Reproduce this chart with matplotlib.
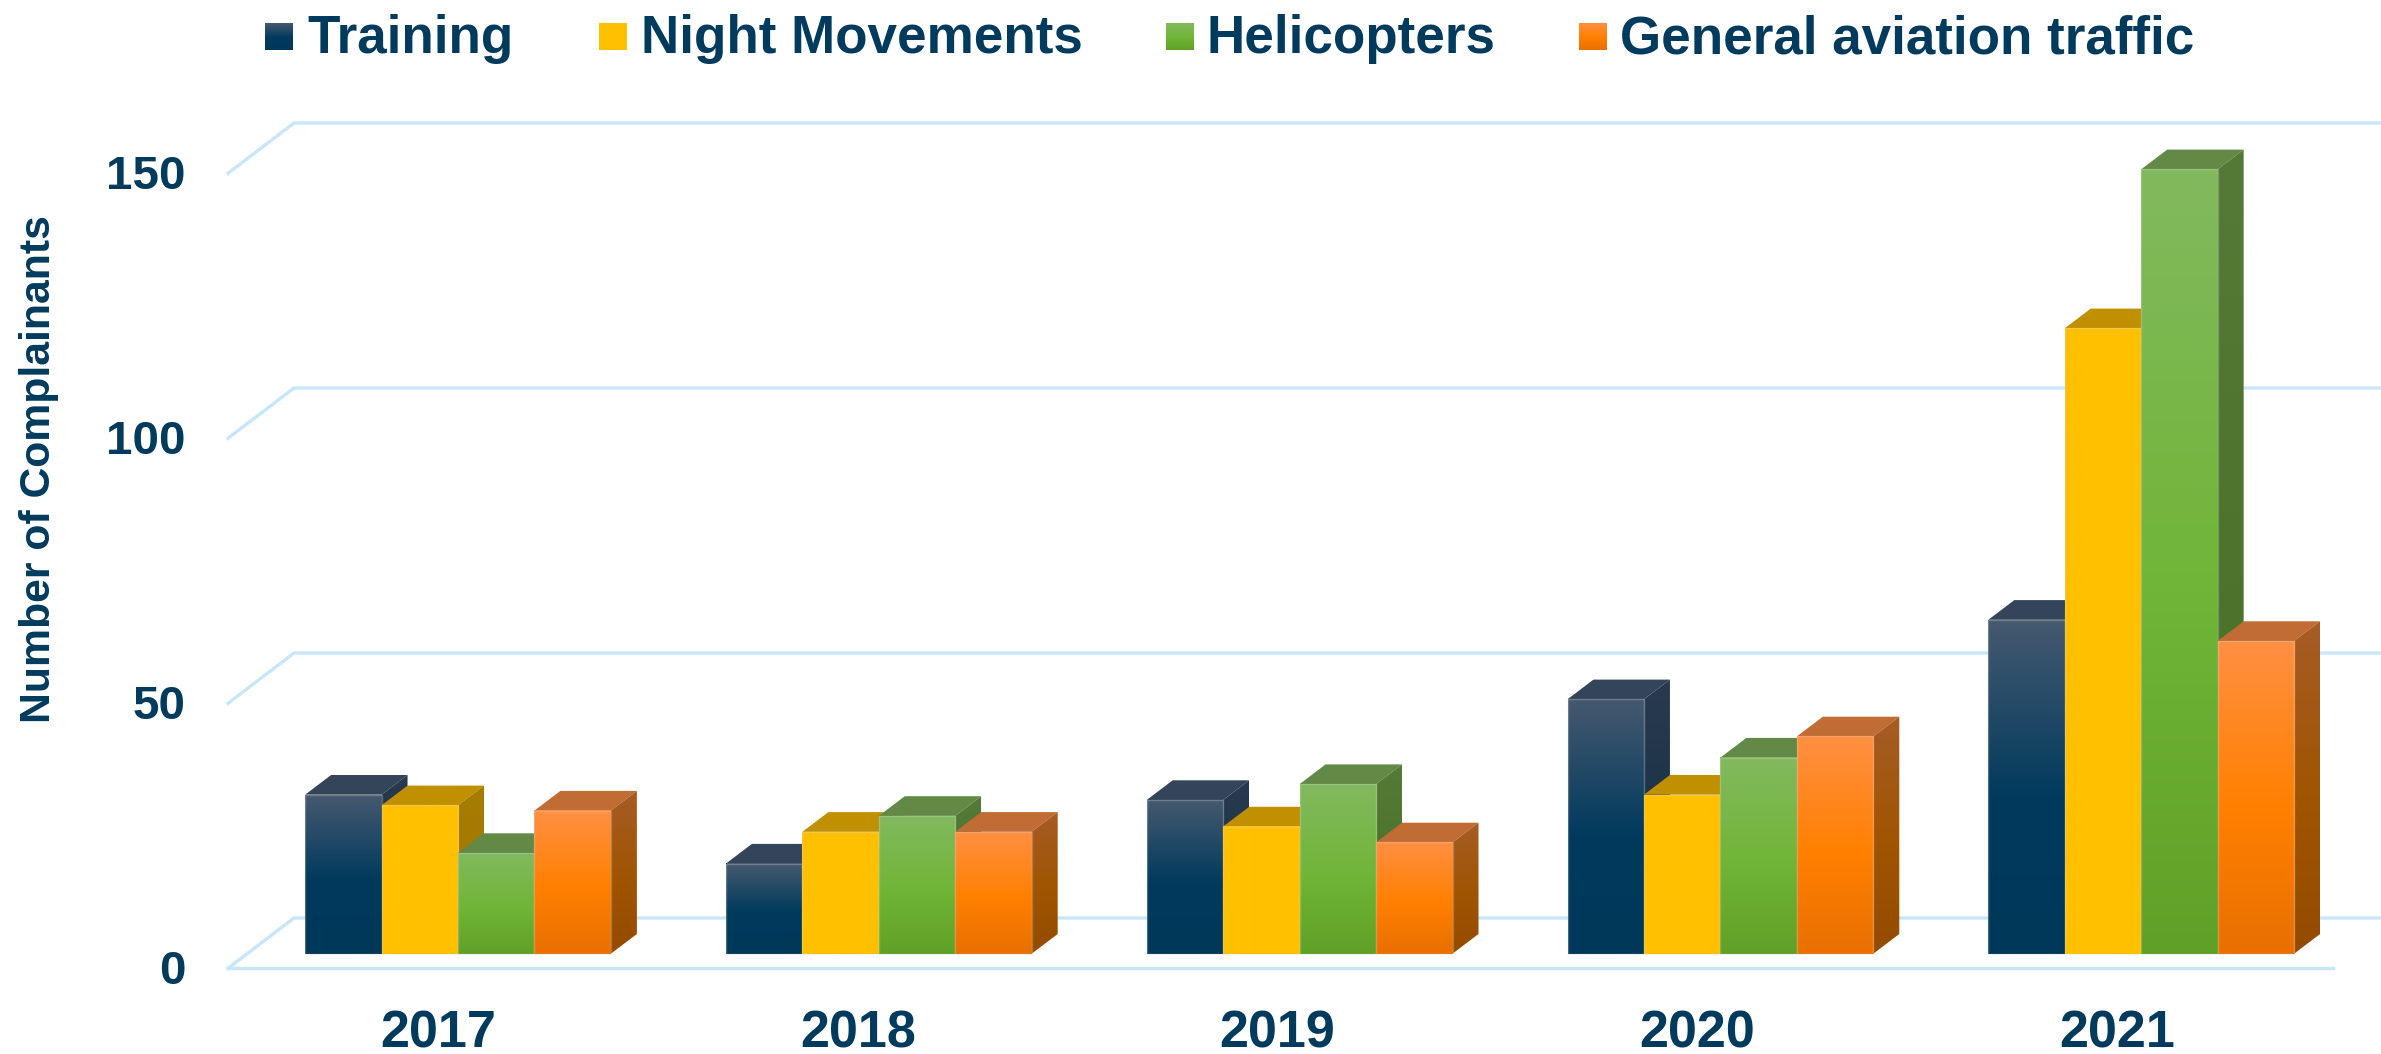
import numpy as np
import matplotlib
matplotlib.use("Agg")
import matplotlib.pyplot as plt
from matplotlib.colors import LinearSegmentedColormap
from matplotlib.patches import Polygon, Rectangle
from matplotlib.transforms import Affine2D

years = ["2017", "2018", "2019", "2020", "2021"]
series = ["Training", "Night Movements", "Helicopters", "General aviation traffic"]
training = [30, 17, 29, 48, 63]
night = [28, 23, 24, 30, 118]
helicopters = [19, 26, 32, 37, 148]
general = [27, 23, 21, 41, 59]
yticks = [0, 50, 100, 150]

TEXT = "#003a5d"
GRID = "#c8e6fa"
W, H = 2381, 1054
plt.rcParams["font.family"] = ["Liberation Sans", "DejaVu Sans"]
plt.rcParams["font.weight"] = "bold"

# front, side, top colours for each series (gradient runs top to bottom)
fronts = [
    ["#46596f", "#003a5d", "#00385a"],
    ["#ffc000", "#ffc000", "#ffc000"],
    ["#82b95e", "#70b537", "#5fa126"],
    ["#ff8f42", "#ff8000", "#e87000"],
]
sides = [
    ["#2a3a4e", "#1b3348", "#16304a"],
    ["#a67c00", "#a37b00", "#a07800"],
    ["#557a38", "#4c742c", "#467024"],
    ["#a65c26", "#9f5500", "#934b00"],
]
tops = ["#344459", "#c09000", "#628a46", "#c06c34"]

# pixel layout of the chart
PX_X0, PX_STEP = 458.0, 420.8      # centre of first year, year spacing
PX_Y0, PX_UNIT = 953.7, 5.3        # bar base, pixels per complainant
BAR_W = 76.45 / PX_STEP
DX = 26.0 / PX_STEP
DY = 19.7 / PX_UNIT
YMAX = 170


def gradient_image(ax, colors, extent, zorder, clip=None):
    cmap = LinearSegmentedColormap.from_list(
        "g", [(0.0, colors[0]), (0.54, colors[1]), (1.0, colors[2])])
    g = np.linspace(0, 1, 256).reshape(-1, 1)
    im = ax.imshow(g, cmap=cmap, vmin=0, vmax=1, extent=extent, aspect="auto",
                   origin="upper", interpolation="bilinear", zorder=zorder)
    if clip is not None:
        im.set_clip_path(clip)
    return im


def draw_bar(ax, left, value, k, z):
    right = left + BAR_W
    # top
    ax.add_patch(Polygon([(left, value), (left + DX, value + DY),
                          (right + DX, value + DY), (right, value)],
                         closed=True, facecolor=tops[k], edgecolor="none",
                         zorder=z, clip_on=False))
    # side
    side = Polygon([(right, 0), (right + DX, DY), (right + DX, value + DY), (right, value)],
                   closed=True, transform=ax.transData)
    gradient_image(ax, sides[k], (right, right + DX, 0, value + DY), z + 0.1, clip=side)
    # front
    gradient_image(ax, fronts[k], (left, right, 0, value), z + 0.2)
    ax.add_patch(Rectangle((left, 0), BAR_W, value, facecolor="none",
                           edgecolor=(0.85, 0.85, 0.85, 0.3), linewidth=1, zorder=z + 0.3,
                           clip_on=False))


def main():
    fig = plt.figure(figsize=(W / 100, H / 100), dpi=100, facecolor="white")
    ax_left = PX_X0 - PX_STEP / 2
    ax_top = PX_Y0 - YMAX * PX_UNIT
    ax = fig.add_axes([ax_left / W, 1 - PX_Y0 / H, (W - ax_left) / W, (PX_Y0 - ax_top) / H])
    ax.set_facecolor("none")
    xlim = (-0.5, (W - PX_X0) / PX_STEP)
    ax.set_xlim(xlim)
    ax.set_ylim(0, YMAX)
    ax.set_autoscale_on(False)
    for s in ax.spines.values():
        s.set_visible(False)

    # floor and walls of the grid
    front_x = (228 - PX_X0) / PX_STEP
    back_x = (294 - PX_X0) / PX_STEP
    end_x = (2333 - PX_X0) / PX_STEP
    front_y = -14.6 / PX_UNIT
    back_y = 35.7 / PX_UNIT
    for v in yticks:
        ax.plot([front_x, back_x, xlim[1]], [v + front_y, v + back_y, v + back_y],
                color=GRID, lw=2.4, zorder=1, clip_on=False, solid_joinstyle="miter")
    ax.plot([front_x, end_x], [front_y, front_y], color=GRID, lw=2.4, zorder=1, clip_on=False)

    data = [training, night, helicopters, general]
    z = 3
    for c in range(len(years)):
        for k, values in enumerate(data):
            left = c + (k - 2) * BAR_W
            draw_bar(ax, left, values[c], k, z)
            z += 1

    ax.set_xticks(range(len(years)))
    ax.set_xticklabels(years)
    ax.set_yticks(yticks)
    ax.tick_params(axis="both", length=0, labelcolor=TEXT)
    ax.tick_params(axis="x", labelsize=37.5, pad=40)
    ax.tick_params(axis="y", labelsize=34.2, pad=44.5)
    for i, lab in enumerate(ax.get_xticklabels()):
        lab.set_transform(lab.get_transform() + Affine2D().translate(-20 - 1 * i, 0))
    for lab in ax.get_yticklabels():
        lab.set_transform(lab.get_transform() + Affine2D().translate(0, -13))

    fig.text(39 / W, 1 - 469 / H, "Number of Complainants", rotation=90, color=TEXT,
             fontsize=30.8, fontweight="bold", ha="center", va="center")

    # legend, spacing in the original is uneven so it is placed by hand
    swatch_x = [265, 599, 1166, 1579]
    text_x = [307, 641, 1207, 1620]
    for k, name in enumerate(series):
        sw = fig.add_axes([swatch_x[k] / W, 1 - 50 / H, 28 / W, 27 / H])
        sw.axis("off")
        gradient_image(sw, fronts[k], (0, 1, 0, 1), 1)
        fig.text(text_x[k] / W, 1 - 53.5 / H, name, color=TEXT, fontsize=38.2,
                 fontweight="bold", ha="left", va="baseline")

    fig.savefig("out.png", dpi=100, facecolor="white")


if __name__ == "__main__":
    main()
